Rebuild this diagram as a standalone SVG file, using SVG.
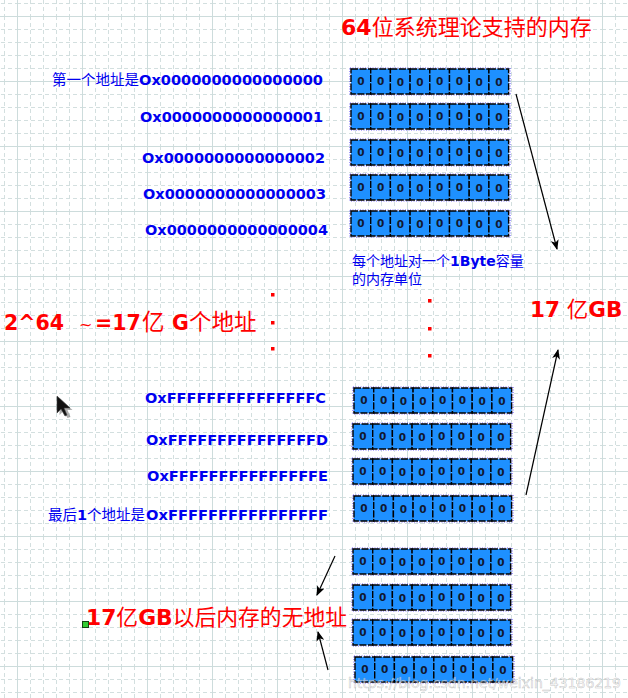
<svg xmlns="http://www.w3.org/2000/svg" xmlns:xlink="http://www.w3.org/1999/xlink" width="628" height="698" viewBox="0 0 628 698">
<style>
.t{font-family:"DejaVu Sans","Noto Sans CJK SC",sans-serif}
.b{font-weight:bold}
.blue{fill:#0000f0}
.red{fill:#ff0000}
.cell{fill:#1e90ff;stroke:#000;stroke-width:1.4;stroke-dasharray:7 1.5}
.sel{fill:none;stroke:#6a5aff;stroke-width:1.2;stroke-dasharray:1 1.5}
.z{font-family:"DejaVu Sans",sans-serif;font-weight:bold;font-size:10.5px;fill:#111830;text-anchor:middle}
.conn{stroke:#000;stroke-width:1.2;fill:none;marker-end:url(#ah)}
.dot{fill:#ff0000}
</style>
<defs>
<pattern id="grid" patternUnits="userSpaceOnUse" x="17" y="16" width="65" height="65">
<g stroke="#d3dfdf" stroke-width="1" stroke-dasharray="4 3">
<line x1="13.5" y1="0" x2="13.5" y2="65"/><line x1="26.5" y1="0" x2="26.5" y2="65"/><line x1="39.5" y1="0" x2="39.5" y2="65"/><line x1="52.5" y1="0" x2="52.5" y2="65"/>
<line x1="0" y1="13.5" x2="65" y2="13.5"/><line x1="0" y1="26.5" x2="65" y2="26.5"/><line x1="0" y1="39.5" x2="65" y2="39.5"/><line x1="0" y1="52.5" x2="65" y2="52.5"/>
</g>
<g stroke="#cddcdc" stroke-width="1">
<line x1="0.5" y1="0" x2="0.5" y2="65"/><line x1="0" y1="0.5" x2="65" y2="0.5"/>
</g>
</pattern>
<marker id="ah" viewBox="0 0 10 8" refX="9" refY="4" markerWidth="10" markerHeight="8" markerUnits="userSpaceOnUse" orient="auto">
<path d="M0,0 L10,4 L0,8 L2.5,4 Z" fill="#000"/>
</marker>
<g id="row">
<rect class="sel" x="-1" y="-1" width="160" height="27"/>
<rect class="cell" x="0" y="0" width="19.7" height="25"/>
<rect class="cell" x="19.7" y="0" width="19.7" height="25"/>
<rect class="cell" x="39.4" y="0" width="19.7" height="25"/>
<rect class="cell" x="59.1" y="0" width="19.7" height="25"/>
<rect class="cell" x="78.8" y="0" width="19.7" height="25"/>
<rect class="cell" x="98.5" y="0" width="19.7" height="25"/>
<rect class="cell" x="118.2" y="0" width="19.7" height="25"/>
<rect class="cell" x="137.9" y="0" width="19.7" height="25"/>
<text class="z" x="9.9" y="16">0</text>
<text class="z" x="29.6" y="16">0</text>
<text class="z" x="49.3" y="17">0</text>
<text class="z" x="69" y="17">0</text>
<text class="z" x="88.7" y="16">0</text>
<text class="z" x="108.4" y="16">0</text>
<text class="z" x="128.1" y="17">0</text>
<text class="z" x="147.8" y="17">0</text>
</g>
</defs>
<rect x="0" y="0" width="628" height="698" fill="#ffffff"/>
<rect x="0" y="0" width="628" height="698" fill="url(#grid)"/>

<g id="title"><text class="t red" x="341" y="35" font-size="22"><tspan class="b">64</tspan>位系统理论支持的内存</text></g>

<g id="mem-top">
<g id="row1"><use xlink:href="#row" x="351" y="69"/></g>
<g id="row2"><use xlink:href="#row" x="351" y="104"/></g>
<g id="row3"><use xlink:href="#row" x="351" y="140"/></g>
<g id="row4"><use xlink:href="#row" x="351" y="175"/></g>
<g id="row5"><use xlink:href="#row" x="351" y="211"/></g>
</g>
<g id="mem-mid">
<g id="row6"><use xlink:href="#row" x="354" y="388"/></g>
<g id="row7"><use xlink:href="#row" x="353" y="424"/></g>
<g id="row8"><use xlink:href="#row" x="353" y="459"/></g>
<g id="row9"><use xlink:href="#row" x="354" y="496"/></g>
</g>
<g id="mem-bottom">
<g id="row10"><use xlink:href="#row" x="353" y="549"/></g>
<g id="row11"><use xlink:href="#row" x="353" y="585"/></g>
<g id="row12"><use xlink:href="#row" x="353" y="620"/></g>
<g id="row13"><use xlink:href="#row" x="355" y="657"/></g>
</g>

<g id="addr-labels" class="t blue">
<text x="52" y="85" font-size="14.5">第一个地址是</text>
<text class="b" x="139" y="85" font-size="14.5" textLength="184" lengthAdjust="spacingAndGlyphs">Ox0000000000000000</text>
<text class="b" x="140" y="122" font-size="14.5" textLength="183" lengthAdjust="spacingAndGlyphs">Ox0000000000000001</text>
<text class="b" x="142" y="163" font-size="14.5" textLength="183" lengthAdjust="spacingAndGlyphs">Ox0000000000000002</text>
<text class="b" x="143" y="199" font-size="14.5" textLength="183" lengthAdjust="spacingAndGlyphs">Ox0000000000000003</text>
<text class="b" x="145" y="235" font-size="14.5" textLength="183" lengthAdjust="spacingAndGlyphs">Ox0000000000000004</text>
<text class="b" x="145" y="403" font-size="14.5" textLength="181" lengthAdjust="spacingAndGlyphs">OxFFFFFFFFFFFFFFFC</text>
<text class="b" x="146" y="445" font-size="14.5" textLength="182" lengthAdjust="spacingAndGlyphs">OxFFFFFFFFFFFFFFFD</text>
<text class="b" x="147" y="481" font-size="14.5" textLength="181" lengthAdjust="spacingAndGlyphs">OxFFFFFFFFFFFFFFFE</text>
<text x="48" y="520" font-size="14.5">最后<tspan class="b">1</tspan>个地址是</text>
<text class="b" x="146" y="520" font-size="14.5" textLength="182" lengthAdjust="spacingAndGlyphs">OxFFFFFFFFFFFFFFFF</text>
</g>

<g id="byte-note" class="t blue" font-size="14">
<text x="352" y="266">每个地址对一个<tspan class="b">1Byte</tspan>容量</text>
<text x="352" y="284">的内存单位</text>
</g>

<g id="total-addr"><text class="t red" y="330" font-size="20.5"><tspan class="b" x="4">2^64</tspan><tspan x="79" font-size="16">~</tspan><tspan class="b" x="95">=17</tspan><tspan x="142" font-size="22.5">亿</tspan><tspan class="b" x="172">G</tspan><tspan x="189" font-size="22.5">个地址</tspan></text></g>
<g id="total-mem"><text class="t red" x="530" y="317" font-size="21.5"><tspan class="b">17</tspan> 亿<tspan class="b">GB</tspan></text></g>
<g id="no-addr"><text class="t red" x="86" y="625" font-size="21.8"><tspan class="b">17</tspan>亿<tspan class="b">GB</tspan>以后内存的无地址</text></g>

<g id="ellipsis">
<rect class="dot" x="271" y="293" width="3.5" height="3.5"/>
<rect class="dot" x="271" y="321" width="3.5" height="3.5"/>
<rect class="dot" x="271" y="347" width="3.5" height="3.5"/>
<rect class="dot" x="428" y="299" width="3.5" height="3.5"/>
<rect class="dot" x="428" y="327" width="3.5" height="3.5"/>
<rect class="dot" x="428" y="354" width="3.5" height="3.5"/>
</g>

<g id="connectors">
<line class="conn" x1="516" y1="94" x2="557" y2="249"/>
<line class="conn" x1="526" y1="495" x2="558" y2="350"/>
<line class="conn" x1="335" y1="556" x2="317" y2="595"/>
<line class="conn" x1="328" y1="670" x2="318" y2="632"/>
</g>

<g id="handle"><rect x="82.5" y="621.5" width="6" height="6" fill="#33cc33" stroke="#114411" stroke-width="1"/></g>

<g id="cursor">
<path d="M58,397 L58,414 L62,410 L66,417 L69,416 L66,409 L71,409 Z" fill="#777" opacity="0.6" transform="translate(1.5,1)"/>
<path d="M57,396 L57,413 L61,409 L65,416 L67,415 L64,408 L70,408 Z" fill="#111" stroke="#444" stroke-width="0.6"/>
</g>

<g id="watermark"><text class="t" x="348" y="688" font-size="14" fill="#ffffff" fill-opacity="0.55" stroke="#9a9a9a" stroke-opacity="0.6" stroke-width="0.5">https://blog.csdn.net/weixin_43186219</text></g>
</svg>
